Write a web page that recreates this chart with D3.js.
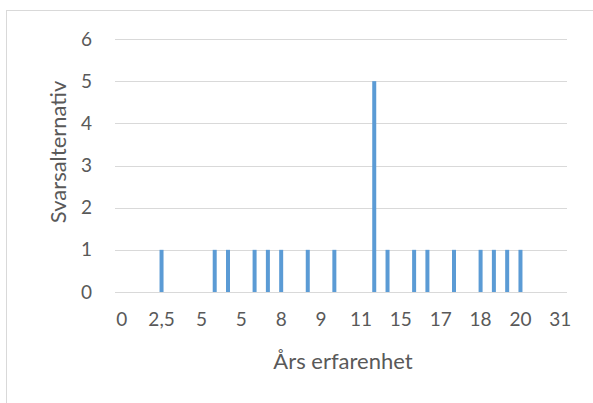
<!DOCTYPE html>
<html>
<head>
<meta charset="utf-8">
<script src="https://cdn.jsdelivr.net/npm/d3@7"></script>
<style>
    body { margin: 0; background: #fff; }
    svg text { font-family: Lato, "Open Sans", sans-serif; fill: #595959; }
</style>
</head>
<body>
<svg class="chart"></svg>
<script>
// one bar per category (34 categories, only every 3rd is labelled)
const counts = [0, 0, 0, 1, 0, 0, 0, 1, 1, 0, 1, 1, 1, 0, 1, 0, 1, 0, 0, 5,
                1, 0, 1, 1, 0, 1, 0, 1, 1, 1, 1, 0, 0, 0];
const tickLabels = ["0", "2,5", "5", "5", "8", "9", "11", "15", "17", "18", "20", "31"];
const yTicks = [0, 1, 2, 3, 4, 5, 6];

const W = 593, H = 403;
const margin = {top: 39, right: 26, bottom: 111, left: 115};
const width = 567 - margin.left,
      height = 292 - margin.top;

const root = d3.select(".chart")
    .attr("width", W)
    .attr("height", H);

// outer frame
root.append("rect")
    .attr("x", 6.5).attr("y", 10.5)
    .attr("width", W + 10).attr("height", H + 10)
    .attr("fill", "none")
    .attr("stroke", "#d9d9d9");

const svg = root.append("g")
    .attr("transform", `translate(${margin.left},${margin.top})`);

const x = d3.scaleBand()
    .domain(d3.range(counts.length))
    .range([0, width]);

const y = d3.scaleLinear()
    .domain([0, 6])
    .range([height, 0]);

// gridlines
svg.selectAll(".grid")
    .data(yTicks)
    .enter()
    .append("line")
    .attr("x1", 0)
    .attr("x2", width)
    .attr("y1", d => Math.round(y(d)) + 0.5)
    .attr("y2", d => Math.round(y(d)) + 0.5)
    .attr("stroke", "#d9d9d9")
    .attr("stroke-width", 1);

// y axis labels
const yAxis = svg.append("g")
    .call(d3.axisLeft(y).tickValues(yTicks).tickFormat(d3.format("d")).tickSize(0).tickPadding(23));
yAxis.select(".domain").remove();
yAxis.selectAll(".tick text")
    .style("font-size", "19px")
    .style("fill", "#595959");

// x axis labels (every 3rd category)
const xAxis = svg.append("g")
    .attr("transform", `translate(0,${height})`)
    .call(d3.axisBottom(x)
        .tickValues(d3.range(0, counts.length, 3))
        .tickFormat((d, i) => tickLabels[i])
        .tickSize(0)
        .tickPadding(21));
xAxis.select(".domain").remove();
xAxis.selectAll(".tick text")
    .style("font-size", "19px")
    .style("fill", "#595959");

// bars
const barW = 4;
svg.selectAll(".bar")
    .data(counts)
    .enter()
    .append("rect")
    .attr("x", (d, i) => x(i) + x.bandwidth() / 2 - barW / 2)
    .attr("width", barW)
    .attr("y", d => y(d))
    .attr("height", d => y(0) - y(d))
    .attr("fill", "#5b9bd5");

// axis titles
root.append("text")
    .attr("x", margin.left + width / 2 + 2)
    .attr("y", 369)
    .attr("text-anchor", "middle")
    .style("font-size", "22px")
    .text("Års erfarenhet");

root.append("text")
    .attr("transform", `translate(66,152) rotate(-90)`)
    .attr("text-anchor", "middle")
    .style("font-size", "22px")
    .text("Svarsalternativ");
</script>
</body>
</html>
